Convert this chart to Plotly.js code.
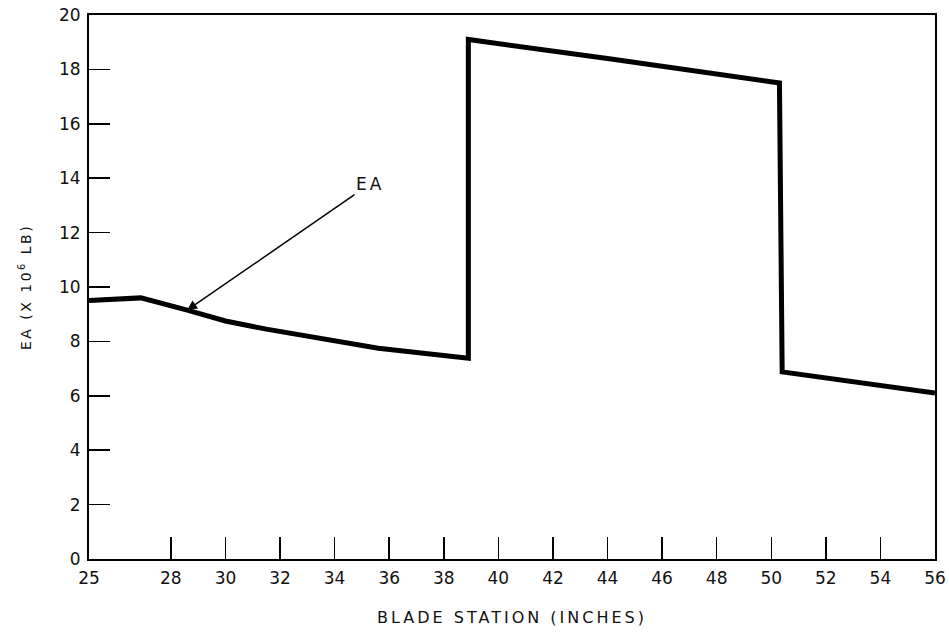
<!DOCTYPE html>
<html>
<head>
<meta charset="utf-8">
<script src="https://cdn.plot.ly/plotly-3.0.1.min.js"></script>
<style>
html,body{margin:0;padding:0;background:#fff;}
#chart{width:949px;height:633px;}
.g-xtitle text{letter-spacing:3px;}
.g-ytitle text{letter-spacing:2.5px;}
.annotation-text{letter-spacing:3px;}
</style>
</head>
<body>
<div id="chart"></div>
<script>
const station = [25, 26.9, 28.6, 30, 31.5, 33.2, 35.6, 38.9, 38.9, 44, 50.3, 50.4, 56];
const ea      = [9.5, 9.6, 9.15, 8.75, 8.45, 8.15, 7.75, 7.38, 19.1, 18.4, 17.5, 6.88, 6.1];
const xTicks = [25, 28, 30, 32, 34, 36, 38, 40, 42, 44, 46, 48, 50, 52, 54, 56];
const yTicks = [0, 2, 4, 6, 8, 10, 12, 14, 16, 18, 20];
const arrowPoint = {x: 28.6, y: 9.15};
const arrowLabel = "EA";

const fam = "DejaVu Sans, Liberation Sans, Arial, sans-serif";
const font = {family: fam, color: "#111", size: 16};

const data = [{
  x: station, y: ea, type: "scatter", mode: "lines",
  line: {color: "#000", width: 5, shape: "linear"},
  hoverinfo: "skip"
}];

const layout = {
  width: 949, height: 633,
  margin: {l: 89, r: 14, t: 15, b: 74},
  paper_bgcolor: "#fff", plot_bgcolor: "#fff",
  showlegend: false,
  font: font,
  xaxis: {
    range: [25, 56], tickvals: xTicks, ticktext: xTicks.map(String),
    ticks: "inside", ticklen: 22, tickwidth: 1.5, tickcolor: "#000",
    showline: true, linecolor: "#000", linewidth: 2, mirror: true,
    showgrid: false, zeroline: false, ticklabelstandoff: 3,
    tickfont: {size: 17, family: fam, color: "#111"},
    title: {text: "BLADE STATION (INCHES)", font: {size: 16, family: fam, color: "#111"}, standoff: 24}
  },
  yaxis: {
    range: [0, 20], tickvals: yTicks, ticktext: yTicks.map(String),
    ticks: "inside", ticklen: 21, tickwidth: 1.5, tickcolor: "#000",
    showline: true, linecolor: "#000", linewidth: 2, mirror: true,
    showgrid: false, zeroline: false, ticklabelstandoff: 3,
    tickfont: {size: 17, family: fam, color: "#111"},
    title: {text: "EA (X 10<sup>6</sup> LB)", font: {size: 14, family: fam, color: "#111"}, standoff: 24}
  },
  annotations: [{
    x: arrowPoint.x, y: arrowPoint.y, xref: "x", yref: "y",
    text: arrowLabel, showarrow: true,
    ax: 0, ay: 0,
    arrowhead: 2, arrowsize: 1.3, arrowwidth: 1.5, arrowcolor: "#000",
    font: {size: 17, family: fam, color: "#111"}
  }]
};
// tail offset in pixels relative to the arrow tip
layout.annotations[0].ax = 370 - (89 + (arrowPoint.x - 25) / 31 * 846);
layout.annotations[0].ay = 184 - (15 + (20 - arrowPoint.y) / 20 * 544);

Plotly.newPlot("chart", data, layout, {displayModeBar: false, staticPlot: true});
</script>
</body>
</html>
